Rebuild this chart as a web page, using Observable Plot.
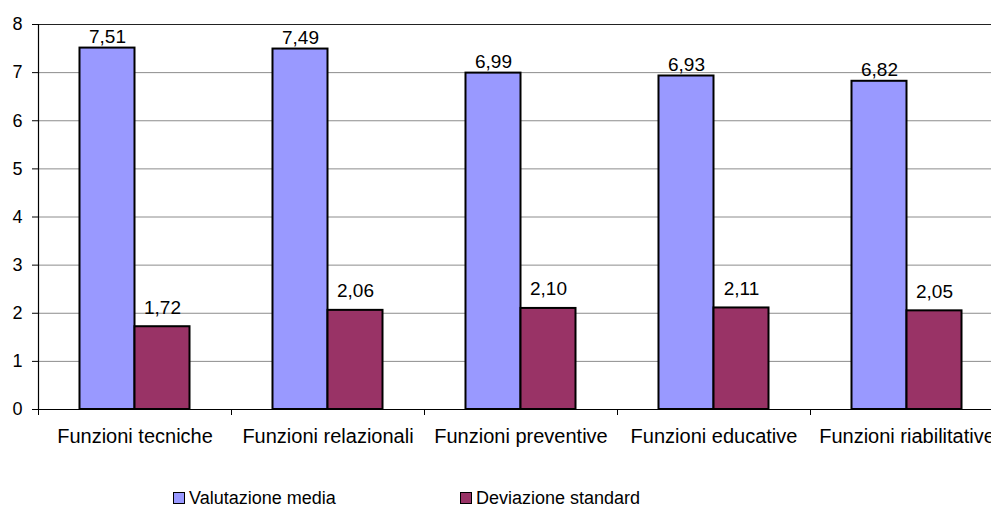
<!DOCTYPE html>
<html>
<head>
<meta charset="utf-8">
<script src="https://cdn.jsdelivr.net/npm/d3@7"></script>
<script src="https://cdn.jsdelivr.net/npm/@observablehq/plot@0.6"></script>
<style>
  html, body { margin: 0; padding: 0; background: white; overflow: hidden; }
  #wrap { width: 991px; height: 508px; position: relative; overflow: hidden; font-family: "Liberation Sans", Arial, sans-serif; }
  #wrap svg { max-width: none; }
  #legend { position: absolute; left: 0; top: 460px; width: 991px; height: 48px; }
  .item { position: absolute; top: 29px; display: flex; align-items: center; font-size: 18px; line-height: 18px; color: black; white-space: nowrap; }
  .swatch { width: 10px; height: 10px; border: 1.5px solid black; margin-right: 4px; }
</style>
</head>
<body>
<div id="wrap"><div id="legend"></div></div>
<script>
// Valutazione delle funzioni: media e deviazione standard
const categories = ["Funzioni tecniche", "Funzioni relazionali", "Funzioni preventive", "Funzioni educative", "Funzioni riabilitative"];
const mediaValues = [7.51, 7.49, 6.99, 6.93, 6.82];
const devValues = [1.72, 2.06, 2.10, 2.11, 2.05];
const seriesNames = ["Valutazione media", "Deviazione standard"];
const seriesColors = ["#9999FF", "#993366"];
const yTicks = [0, 1, 2, 3, 4, 5, 6, 7, 8];

const rows = categories.map((c, i) => ({category: c, media: mediaValues[i], dev: devValues[i]}));
const fmt = v => v.toFixed(2).replace(".", ",");

// the category band runs a little past the right edge of the page
const xRange = [38, 1003];
const step = (xRange[1] - xRange[0]) / categories.length;
const outer = step * 0.215;
const barW = step * 0.285;

const chart = Plot.plot({
  width: 991,
  height: 460,
  marginLeft: 38,
  marginRight: 0,
  marginTop: 24,
  marginBottom: 51,
  style: {fontFamily: "'Liberation Sans', Arial, sans-serif", fontSize: "18px", color: "black", background: "white"},
  x: {domain: categories, range: xRange, padding: 0, label: null},
  y: {domain: [0, 8], label: null},
  marks: [
    Plot.ruleY(yTicks.filter(t => t > 0 && t < 8), {stroke: "#8c8c8c", strokeWidth: 1}),
    Plot.ruleY([8], {stroke: "#222", strokeWidth: 1.2}),
    Plot.barY(rows, {x: "category", y: "media", fill: seriesColors[0], stroke: "black", strokeWidth: 2,
      insetLeft: outer, insetRight: step - outer - barW}),
    Plot.barY(rows, {x: "category", y: "dev", fill: seriesColors[1], stroke: "black", strokeWidth: 2,
      insetLeft: outer + barW, insetRight: outer}),
    Plot.text(rows, {x: "category", y: "media", text: d => fmt(d.media), dx: -barW / 2, dy: -5,
      lineAnchor: "bottom", fontSize: 19, fill: "black"}),
    Plot.text(rows, {x: "category", y: "dev", text: d => fmt(d.dev), dx: barW / 2, dy: -13,
      lineAnchor: "bottom", fontSize: 19, fill: "black"}),
    Plot.ruleY([0], {stroke: "black", strokeWidth: 1.2}),
    Plot.ruleX([categories[0]], {dx: -step / 2, stroke: "black", strokeWidth: 1.2}),
    Plot.axisY({ticks: yTicks, tickSize: 6, tickPadding: 10, tickFormat: d => String(d), label: null, fontSize: 18, stroke: "black"}),
    Plot.axisX({tickSize: 6, tickFormat: () => "", dx: -step / 2, label: null, stroke: "black"}),
    Plot.axisX({tickSize: 0, tickPadding: 19, label: null, fontSize: 20})
  ]
});
document.getElementById("wrap").prepend(chart);

// legend below the chart
const legendLeft = [173, 460];
const legend = document.getElementById("legend");
seriesNames.forEach((name, i) => {
  const item = document.createElement("div");
  item.className = "item";
  item.style.left = legendLeft[i] + "px";
  const sw = document.createElement("span");
  sw.className = "swatch";
  sw.style.background = seriesColors[i];
  const label = document.createElement("span");
  label.textContent = name;
  item.append(sw, label);
  legend.append(item);
});
</script>
</body>
</html>
